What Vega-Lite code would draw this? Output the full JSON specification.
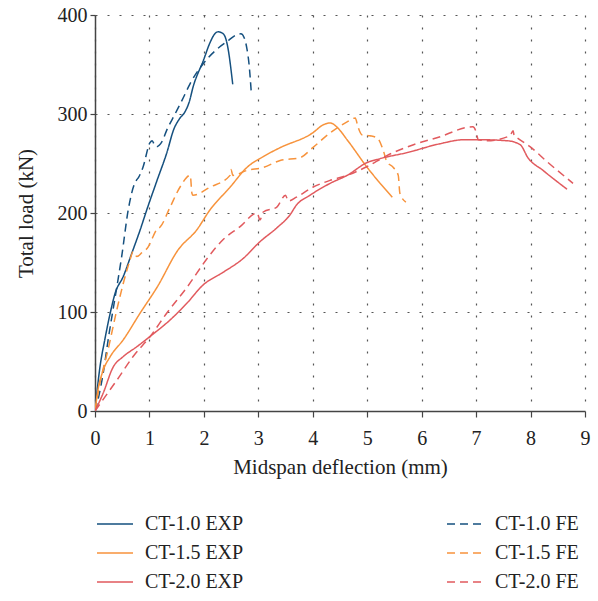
{
  "$schema": "https://vega.github.io/schema/vega-lite/v6.json",
  "autosize": {"type": "none"},
  "width": 490,
  "height": 396,
  "padding": {"left": 95, "top": 15, "right": 13, "bottom": 190},
  "background": "white",
  "config": {
    "view": {"stroke": null},
    "font": "Liberation Serif",
    "axis": {
      "labelFont": "Liberation Serif",
      "titleFont": "Liberation Serif",
      "labelFontSize": 20,
      "titleFontSize": 21,
      "titleFontWeight": "normal",
      "labelColor": "#222",
      "titleColor": "#222",
      "domainColor": "#444",
      "tickColor": "#444",
      "domainWidth": 1.5,
      "tickWidth": 1.2,
      "gridColor": "#555",
      "gridDash": [2, 10],
      "gridWidth": 1.2,
      "gridOpacity": 1,
      "labelFlush": false
    },
    "legend": {
      "labelFont": "Liberation Serif",
      "labelFontSize": 20,
      "labelColor": "#222"
    }
  },
  "data": {
    "values": [
      {"s":"CT-1.0 EXP","x":0,"y":0},{"s":"CT-1.0 EXP","x":0.09,"y":44},{"s":"CT-1.0 EXP","x":0.18,"y":72},{"s":"CT-1.0 EXP","x":0.28,"y":99},{"s":"CT-1.0 EXP","x":0.37,"y":119},{"s":"CT-1.0 EXP","x":0.52,"y":136},{"s":"CT-1.0 EXP","x":0.68,"y":160},{"s":"CT-1.0 EXP","x":0.83,"y":183},{"s":"CT-1.0 EXP","x":0.95,"y":203},{"s":"CT-1.0 EXP","x":1.14,"y":233},{"s":"CT-1.0 EXP","x":1.32,"y":261},{"s":"CT-1.0 EXP","x":1.45,"y":285},{"s":"CT-1.0 EXP","x":1.55,"y":295},{"s":"CT-1.0 EXP","x":1.65,"y":302},{"s":"CT-1.0 EXP","x":1.73,"y":312},{"s":"CT-1.0 EXP","x":1.8,"y":327},{"s":"CT-1.0 EXP","x":1.99,"y":354},{"s":"CT-1.0 EXP","x":2.12,"y":373},{"s":"CT-1.0 EXP","x":2.2,"y":381},{"s":"CT-1.0 EXP","x":2.26,"y":383},{"s":"CT-1.0 EXP","x":2.33,"y":382},{"s":"CT-1.0 EXP","x":2.39,"y":378},{"s":"CT-1.0 EXP","x":2.43,"y":370},{"s":"CT-1.0 EXP","x":2.53,"y":330},
      {"s":"CT-1.0 FE","x":0,"y":0},{"s":"CT-1.0 FE","x":0.07,"y":15},{"s":"CT-1.0 FE","x":0.15,"y":38},{"s":"CT-1.0 FE","x":0.25,"y":75},{"s":"CT-1.0 FE","x":0.37,"y":115},{"s":"CT-1.0 FE","x":0.49,"y":156},{"s":"CT-1.0 FE","x":0.61,"y":203},{"s":"CT-1.0 FE","x":0.73,"y":230},{"s":"CT-1.0 FE","x":0.76,"y":233},{"s":"CT-1.0 FE","x":0.8,"y":236},{"s":"CT-1.0 FE","x":0.88,"y":246},{"s":"CT-1.0 FE","x":1.01,"y":271},{"s":"CT-1.0 FE","x":1.05,"y":273},{"s":"CT-1.0 FE","x":1.09,"y":269},{"s":"CT-1.0 FE","x":1.13,"y":267},{"s":"CT-1.0 FE","x":1.23,"y":272},{"s":"CT-1.0 FE","x":1.32,"y":284},{"s":"CT-1.0 FE","x":1.47,"y":300},{"s":"CT-1.0 FE","x":1.6,"y":314},{"s":"CT-1.0 FE","x":1.75,"y":331},{"s":"CT-1.0 FE","x":1.99,"y":351},{"s":"CT-1.0 FE","x":2.23,"y":365},{"s":"CT-1.0 FE","x":2.42,"y":373},{"s":"CT-1.0 FE","x":2.6,"y":380},{"s":"CT-1.0 FE","x":2.68,"y":381},{"s":"CT-1.0 FE","x":2.74,"y":377},{"s":"CT-1.0 FE","x":2.79,"y":366},{"s":"CT-1.0 FE","x":2.83,"y":350},{"s":"CT-1.0 FE","x":2.87,"y":322},
      {"s":"CT-1.5 EXP","x":0,"y":0},{"s":"CT-1.5 EXP","x":0.05,"y":20},{"s":"CT-1.5 EXP","x":0.15,"y":41},{"s":"CT-1.5 EXP","x":0.28,"y":55},{"s":"CT-1.5 EXP","x":0.52,"y":72},{"s":"CT-1.5 EXP","x":0.83,"y":99},{"s":"CT-1.5 EXP","x":1.14,"y":125},{"s":"CT-1.5 EXP","x":1.53,"y":163},{"s":"CT-1.5 EXP","x":1.87,"y":183},{"s":"CT-1.5 EXP","x":2.11,"y":203},{"s":"CT-1.5 EXP","x":2.48,"y":226},{"s":"CT-1.5 EXP","x":2.79,"y":246},{"s":"CT-1.5 EXP","x":3.09,"y":257},{"s":"CT-1.5 EXP","x":3.4,"y":266},{"s":"CT-1.5 EXP","x":4.0,"y":281},{"s":"CT-1.5 EXP","x":4.19,"y":289},{"s":"CT-1.5 EXP","x":4.32,"y":291},{"s":"CT-1.5 EXP","x":4.44,"y":287},{"s":"CT-1.5 EXP","x":4.63,"y":274},{"s":"CT-1.5 EXP","x":5.0,"y":246},{"s":"CT-1.5 EXP","x":5.46,"y":216},
      {"s":"CT-1.5 FE","x":0,"y":0},{"s":"CT-1.5 FE","x":0.09,"y":28},{"s":"CT-1.5 FE","x":0.24,"y":62},{"s":"CT-1.5 FE","x":0.4,"y":102},{"s":"CT-1.5 FE","x":0.52,"y":129},{"s":"CT-1.5 FE","x":0.64,"y":152},{"s":"CT-1.5 FE","x":0.7,"y":161},{"s":"CT-1.5 FE","x":0.77,"y":156},{"s":"CT-1.5 FE","x":0.86,"y":160},{"s":"CT-1.5 FE","x":0.98,"y":166},{"s":"CT-1.5 FE","x":1.04,"y":173},{"s":"CT-1.5 FE","x":1.13,"y":183},{"s":"CT-1.5 FE","x":1.2,"y":186},{"s":"CT-1.5 FE","x":1.38,"y":206},{"s":"CT-1.5 FE","x":1.56,"y":226},{"s":"CT-1.5 FE","x":1.75,"y":238},{"s":"CT-1.5 FE","x":1.78,"y":220},{"s":"CT-1.5 FE","x":1.8,"y":218},{"s":"CT-1.5 FE","x":2.11,"y":226},{"s":"CT-1.5 FE","x":2.48,"y":238},{"s":"CT-1.5 FE","x":2.5,"y":244},{"s":"CT-1.5 FE","x":2.53,"y":238},{"s":"CT-1.5 FE","x":2.79,"y":243},{"s":"CT-1.5 FE","x":3.09,"y":246},{"s":"CT-1.5 FE","x":3.4,"y":253},{"s":"CT-1.5 FE","x":3.77,"y":256},{"s":"CT-1.5 FE","x":4.0,"y":266},{"s":"CT-1.5 FE","x":4.32,"y":281},{"s":"CT-1.5 FE","x":4.63,"y":292},{"s":"CT-1.5 FE","x":4.78,"y":296},{"s":"CT-1.5 FE","x":4.83,"y":287},{"s":"CT-1.5 FE","x":4.9,"y":279},{"s":"CT-1.5 FE","x":5.05,"y":278},{"s":"CT-1.5 FE","x":5.18,"y":276},{"s":"CT-1.5 FE","x":5.29,"y":264},{"s":"CT-1.5 FE","x":5.36,"y":252},{"s":"CT-1.5 FE","x":5.48,"y":246},{"s":"CT-1.5 FE","x":5.57,"y":238},{"s":"CT-1.5 FE","x":5.6,"y":220},{"s":"CT-1.5 FE","x":5.71,"y":211},
      {"s":"CT-2.0 EXP","x":0,"y":0},{"s":"CT-2.0 EXP","x":0.15,"y":18},{"s":"CT-2.0 EXP","x":0.33,"y":44},{"s":"CT-2.0 EXP","x":0.52,"y":55},{"s":"CT-2.0 EXP","x":0.77,"y":65},{"s":"CT-2.0 EXP","x":1.05,"y":77},{"s":"CT-2.0 EXP","x":1.38,"y":92},{"s":"CT-2.0 EXP","x":1.69,"y":109},{"s":"CT-2.0 EXP","x":1.98,"y":127},{"s":"CT-2.0 EXP","x":2.35,"y":140},{"s":"CT-2.0 EXP","x":2.72,"y":154},{"s":"CT-2.0 EXP","x":3.03,"y":171},{"s":"CT-2.0 EXP","x":3.34,"y":185},{"s":"CT-2.0 EXP","x":3.58,"y":198},{"s":"CT-2.0 EXP","x":3.7,"y":208},{"s":"CT-2.0 EXP","x":3.95,"y":218},{"s":"CT-2.0 EXP","x":4.32,"y":230},{"s":"CT-2.0 EXP","x":4.63,"y":238},{"s":"CT-2.0 EXP","x":5.0,"y":251},{"s":"CT-2.0 EXP","x":5.24,"y":255},{"s":"CT-2.0 EXP","x":5.73,"y":261},{"s":"CT-2.0 EXP","x":6.34,"y":270},{"s":"CT-2.0 EXP","x":6.77,"y":274},{"s":"CT-2.0 EXP","x":7.07,"y":274},{"s":"CT-2.0 EXP","x":7.57,"y":273},{"s":"CT-2.0 EXP","x":7.81,"y":269},{"s":"CT-2.0 EXP","x":7.95,"y":256},{"s":"CT-2.0 EXP","x":8.23,"y":243},{"s":"CT-2.0 EXP","x":8.67,"y":224},
      {"s":"CT-2.0 FE","x":0,"y":0},{"s":"CT-2.0 FE","x":0.18,"y":14},{"s":"CT-2.0 FE","x":0.4,"y":31},{"s":"CT-2.0 FE","x":0.7,"y":55},{"s":"CT-2.0 FE","x":1.01,"y":75},{"s":"CT-2.0 FE","x":1.32,"y":99},{"s":"CT-2.0 FE","x":1.69,"y":125},{"s":"CT-2.0 FE","x":2.06,"y":154},{"s":"CT-2.0 FE","x":2.35,"y":173},{"s":"CT-2.0 FE","x":2.66,"y":186},{"s":"CT-2.0 FE","x":2.98,"y":200},{"s":"CT-2.0 FE","x":3.03,"y":193},{"s":"CT-2.0 FE","x":3.09,"y":201},{"s":"CT-2.0 FE","x":3.34,"y":206},{"s":"CT-2.0 FE","x":3.5,"y":218},{"s":"CT-2.0 FE","x":3.55,"y":212},{"s":"CT-2.0 FE","x":3.7,"y":216},{"s":"CT-2.0 FE","x":4.0,"y":226},{"s":"CT-2.0 FE","x":4.32,"y":233},{"s":"CT-2.0 FE","x":4.63,"y":238},{"s":"CT-2.0 FE","x":5.0,"y":247},{"s":"CT-2.0 FE","x":5.36,"y":258},{"s":"CT-2.0 FE","x":5.85,"y":269},{"s":"CT-2.0 FE","x":6.28,"y":276},{"s":"CT-2.0 FE","x":6.94,"y":287},{"s":"CT-2.0 FE","x":7.0,"y":282},{"s":"CT-2.0 FE","x":7.04,"y":274},{"s":"CT-2.0 FE","x":7.2,"y":273},{"s":"CT-2.0 FE","x":7.62,"y":278},{"s":"CT-2.0 FE","x":7.68,"y":283},{"s":"CT-2.0 FE","x":7.7,"y":278},{"s":"CT-2.0 FE","x":7.75,"y":276},{"s":"CT-2.0 FE","x":7.99,"y":267},{"s":"CT-2.0 FE","x":8.3,"y":252},{"s":"CT-2.0 FE","x":8.78,"y":230}
    ]
  },
  "mark": {"type": "line", "strokeWidth": 1.5, "clip": true, "interpolate": "monotone"},
  "encoding": {
    "x": {
      "field": "x", "type": "quantitative",
      "scale": {"domain": [0, 9], "nice": false, "zero": false},
      "axis": {"title": "Midspan deflection (mm)", "values": [0,1,2,3,4,5,6,7,8,9], "tickSize": 6, "labelPadding": 11, "titlePadding": 8, "grid": true}
    },
    "y": {
      "field": "y", "type": "quantitative",
      "scale": {"domain": [0, 400], "nice": false},
      "axis": {"title": "Total load (kN)", "values": [0,100,200,300,400], "tickSize": 5, "labelPadding": 3, "titlePadding": 21, "grid": true}
    },
    "color": {
      "field": "s", "type": "nominal",
      "scale": {
        "domain": ["CT-1.0 EXP","CT-1.5 EXP","CT-2.0 EXP","CT-1.0 FE","CT-1.5 FE","CT-2.0 FE"],
        "range": ["#15507f","#f7933c","#e15a5e","#15507f","#f7933c","#e15a5e"]
      },
      "legend": {
        "title": null,
        "orient": "none",
        "legendX": 1,
        "legendY": 490,
        "columns": 2,
        "columnPadding": 200,
        "rowPadding": -6,
        "symbolType": "stroke",
        "symbolSize": 1296,
        "symbolStrokeWidth": 1.5,
        "labelOffset": 11,
        "padding": 0
      }
    },
    "strokeDash": {
      "field": "s", "type": "nominal",
      "scale": {
        "domain": ["CT-1.0 EXP","CT-1.5 EXP","CT-2.0 EXP","CT-1.0 FE","CT-1.5 FE","CT-2.0 FE"],
        "range": [[1,0],[1,0],[1,0],[8,5],[8,5],[8,5]]
      }
    }
  }
}
